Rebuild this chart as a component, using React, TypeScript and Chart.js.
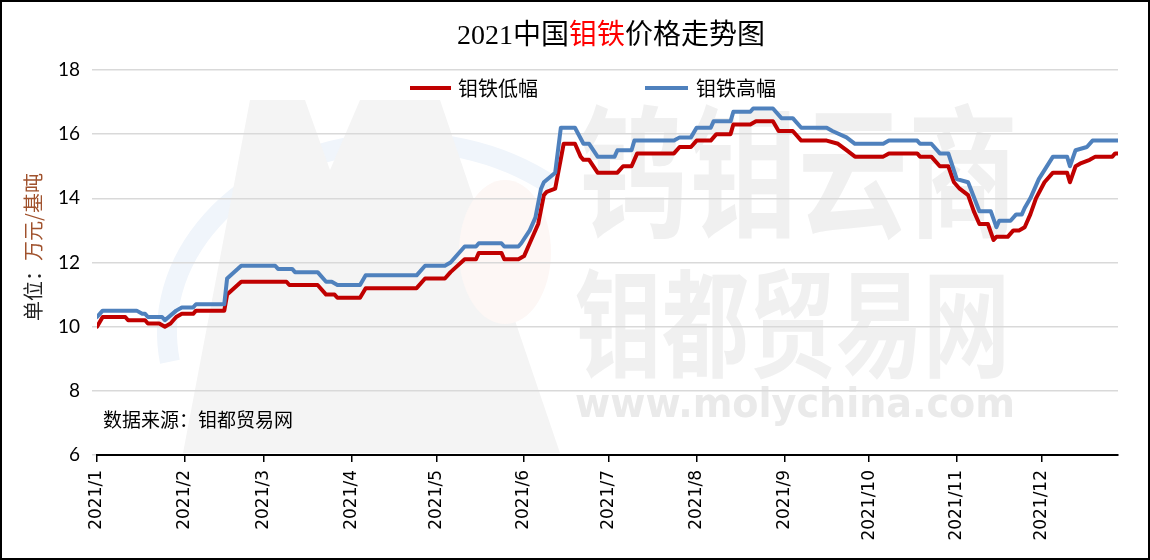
import React, { useEffect, useRef } from "react";
import { Chart, registerables } from "chart.js";

Chart.register(...registerables);

// ---- data (day index from 2021-01-01) ----
const monthStarts = [0, 31, 59, 90, 120, 151, 181, 212, 243, 273, 304, 334];
const monthLabels = [
  "2021/1", "2021/2", "2021/3", "2021/4", "2021/5", "2021/6",
  "2021/7", "2021/8", "2021/9", "2021/10", "2021/11", "2021/12",
];
const yTicks = [6, 8, 10, 12, 14, 16, 18];

const lowDays = [
  0, 2, 10, 11, 17, 18, 22, 24, 26, 28, 30, 34, 35, 45, 46, 51, 67, 68, 78, 81,
  84, 85, 93, 95, 113, 116, 123, 125, 130, 134, 135, 143, 144, 149, 151, 153, 156, 158, 159, 162,
  165, 169, 171, 172, 174, 177, 184, 186, 189, 191, 204, 206, 210, 212, 217, 219, 224, 225, 231, 233,
  239, 241, 246, 249, 258, 262, 265, 268, 278, 280, 290, 291, 295, 298, 301, 303, 305, 308, 310, 312,
  315, 317, 318, 322, 324, 326, 328, 330, 332, 335, 338, 343, 344, 346, 348, 351, 353, 359, 360, 361,
];
const lowValues = [
  10.0, 10.3, 10.3, 10.2, 10.2, 10.1, 10.1, 10.0, 10.1, 10.3, 10.4, 10.4, 10.5, 10.5, 11.0, 11.4, 11.4, 11.3, 11.3, 11.0,
  11.0, 10.9, 10.9, 11.2, 11.2, 11.5, 11.5, 11.7, 12.1, 12.1, 12.3, 12.3, 12.1, 12.1, 12.2, 12.6, 13.2, 14.1, 14.2, 14.3,
  15.7, 15.7, 15.3, 15.2, 15.2, 14.8, 14.8, 15.0, 15.0, 15.4, 15.4, 15.6, 15.6, 15.8, 15.8, 16.0, 16.0, 16.3, 16.3, 16.4,
  16.4, 16.1, 16.1, 15.8, 15.8, 15.7, 15.5, 15.3, 15.3, 15.4, 15.4, 15.3, 15.3, 15.0, 15.0, 14.5, 14.3, 14.1, 13.6, 13.2,
  13.2, 12.7, 12.8, 12.8, 13.0, 13.0, 13.1, 13.5, 14.0, 14.5, 14.8, 14.8, 14.5, 15.0, 15.1, 15.2, 15.3, 15.3, 15.4, 15.4,
];

const highDays = [
  0, 2, 14, 16, 17, 18, 23, 24, 28, 30, 34, 35, 45, 46, 51, 63, 64, 69, 70, 78,
  81, 83, 85, 93, 95, 113, 116, 123, 125, 130, 134, 135, 143, 144, 149, 150, 153, 155, 157, 158,
  162, 164, 169, 172, 174, 177, 183, 184, 189, 190, 204, 206, 210, 212, 217, 218, 224, 225, 231, 232,
  239, 242, 246, 249, 258, 260, 265, 268, 278, 280, 290, 291, 295, 298, 301, 304, 308, 312, 316, 318,
  319, 323, 325, 327, 328, 330, 333, 338, 343, 344, 346, 350, 352, 361,
];
const highValues = [
  10.3, 10.5, 10.5, 10.4, 10.4, 10.3, 10.3, 10.2, 10.5, 10.6, 10.6, 10.7, 10.7, 11.5, 11.9, 11.9, 11.8, 11.8, 11.7, 11.7,
  11.4, 11.4, 11.3, 11.3, 11.6, 11.6, 11.9, 11.9, 12.0, 12.5, 12.5, 12.6, 12.6, 12.5, 12.5, 12.6, 13.0, 13.4, 14.3, 14.5,
  14.8, 16.2, 16.2, 15.7, 15.7, 15.3, 15.3, 15.5, 15.5, 15.8, 15.8, 15.9, 15.9, 16.2, 16.2, 16.4, 16.4, 16.7, 16.7, 16.8,
  16.8, 16.5, 16.5, 16.2, 16.2, 16.1, 15.9, 15.7, 15.7, 15.8, 15.8, 15.7, 15.7, 15.4, 15.4, 14.6, 14.5, 13.6, 13.6, 13.1,
  13.3, 13.3, 13.5, 13.5, 13.7, 14.0, 14.6, 15.3, 15.3, 15.0, 15.5, 15.6, 15.8, 15.8,
];

const lowName = "钼铁低幅";
const highName = "钼铁高幅";
const lowColor = "#C00000";
const highColor = "#4F81BD";

const W = 1146;
const H = 556;

const CJK = "'Noto Sans CJK SC'";

const decor = {
  id: "decor",
  beforeDraw(chart: any) {
    const ctx: CanvasRenderingContext2D = chart.ctx;
    ctx.save();
    // faint blue arc (behind logo)
    ctx.strokeStyle = "#F0F5FB";
    ctx.lineWidth = 20;
    ctx.beginPath();
    ctx.ellipse(400, 330, 235, 190, 0, Math.PI * 0.95, Math.PI * 1.72);
    ctx.stroke();
    // faint "M" logo
    ctx.fillStyle = "#F4F4F4";
    ctx.beginPath();
    ctx.moveTo(181, 451);
    ctx.lineTo(248, 98);
    ctx.lineTo(303, 98);
    ctx.lineTo(328, 168);
    ctx.lineTo(358, 98);
    ctx.lineTo(438, 98);
    ctx.lineTo(558, 451);
    ctx.closePath();
    ctx.fill();
    // faint pink ellipse
    ctx.fillStyle = "#FDF7F5";
    ctx.beginPath();
    ctx.ellipse(503, 250, 46, 72, 0, 0, Math.PI * 2);
    ctx.fill();

    // watermark texts
    ctx.fillStyle = "#F0F0F0";
    ctx.textBaseline = "middle";
    ctx.textAlign = "left";
    ctx.save();
    ctx.translate(576, 170);
    ctx.scale(1, 1.3);
    ctx.font = `bold 110px ${CJK}`;
    ctx.fillText("钨钼云商", 0, 0);
    ctx.restore();

    ctx.save();
    ctx.translate(573, 321);
    ctx.scale(1, 1.35);
    ctx.font = `bold 87px ${CJK}`;
    ctx.fillText("钼都贸易网", 0, 0);
    ctx.restore();

    ctx.save();
    ctx.fillStyle = "#EAEAEA";
    ctx.font = "bold 40px 'DejaVu Sans'";
    const t = "www.molychina.com";
    const w = ctx.measureText(t).width;
    ctx.translate(573, 405);
    ctx.scale(440 / w, 1);
    ctx.fillText(t, 0, 0);
    ctx.restore();
    ctx.restore();
  },
  afterDraw(chart: any) {
    const ctx: CanvasRenderingContext2D = chart.ctx;
    ctx.save();
    ctx.textBaseline = "middle";
    ctx.textAlign = "left";

    // title with red part
    const parts: [string, string][] = [
      ["2021中国", "#000000"],
      ["钼铁", "#FF0000"],
      ["价格走势图", "#000000"],
    ];
    ctx.font = `28px 'Liberation Serif', ${CJK}`;
    const widths = parts.map((p) => ctx.measureText(p[0]).width);
    const total = widths.reduce((a, b) => a + b, 0);
    let x = 609 - total / 2;
    parts.forEach((p, i) => {
      ctx.fillStyle = p[1];
      ctx.fillText(p[0], x, 35);
      x += widths[i];
    });

    // legend
    ctx.font = `20px ${CJK}`;
    ctx.lineWidth = 4;
    ctx.lineCap = "butt";
    ctx.strokeStyle = lowColor;
    ctx.beginPath();
    ctx.moveTo(408, 86);
    ctx.lineTo(449, 86);
    ctx.stroke();
    ctx.fillStyle = "#000";
    ctx.fillText(lowName, 456, 86);
    ctx.strokeStyle = highColor;
    ctx.beginPath();
    ctx.moveTo(643, 86);
    ctx.lineTo(686, 86);
    ctx.stroke();
    ctx.fillText(highName, 694, 86);

    // source
    ctx.font = `19px ${CJK}`;
    ctx.fillStyle = "#000";
    ctx.fillText("数据来源：钼都贸易网", 101, 418);

    // y axis title
    ctx.save();
    ctx.translate(31, 245);
    ctx.rotate(-Math.PI / 2);
    ctx.font = `20px ${CJK}`;
    const yp: [string, string][] = [
      ["单位：", "#222222"],
      ["万元/基吨", "#A0522D"],
    ];
    const yw = yp.map((p) => ctx.measureText(p[0]).width);
    let yx = -(yw[0] + yw[1]) / 2;
    yp.forEach((p, i) => {
      ctx.fillStyle = p[1];
      ctx.fillText(p[0], yx, 0);
      yx += yw[i];
    });
    ctx.restore();

    ctx.restore();
  },
};

export default function App() {
  const ref = useRef<HTMLCanvasElement>(null);
  useEffect(() => {
    const canvas = ref.current;
    if (!canvas) return;
    const chart = new Chart(canvas, {
      type: "line",
      data: {
        datasets: [
          {
            label: highName,
            data: highDays.map((d, i) => ({ x: d, y: highValues[i] })),
            borderColor: highColor,
            backgroundColor: highColor,
            borderWidth: 4,
            pointRadius: 0,
            tension: 0,
            fill: false,
            borderJoinStyle: "round",
            borderCapStyle: "round",
          },
          {
            label: lowName,
            data: lowDays.map((d, i) => ({ x: d, y: lowValues[i] })),
            borderColor: lowColor,
            backgroundColor: lowColor,
            borderWidth: 4,
            pointRadius: 0,
            tension: 0,
            fill: false,
            borderJoinStyle: "round",
            borderCapStyle: "round",
          },
        ],
      },
      options: {
        responsive: false,
        animation: false,
        layout: { padding: { top: 68, right: 30, left: 0, bottom: 0 } },
        plugins: {
          legend: { display: false },
          title: { display: false },
          tooltip: { enabled: false },
        },
        scales: {
          x: {
            type: "linear",
            min: 0,
            max: 361,
            afterBuildTicks: (s: any) => {
              s.ticks = monthStarts.map((v) => ({ value: v }));
            },
            afterFit: (s: any) => {
              s.height = 103;
            },
            ticks: {
              autoSkip: false,
              minRotation: 90,
              maxRotation: 90,
              padding: 8,
              color: "#000",
              font: { family: "'DejaVu Sans'", size: 17 },
              callback: (v: any) => {
                const i = monthStarts.indexOf(Number(v));
                return i >= 0 ? monthLabels[i] : "";
              },
            },
            grid: {
              drawOnChartArea: false,
              color: "#000",
              tickLength: 7,
              lineWidth: 1.5,
            },
            border: { color: "#000", width: 2 },
          },
          y: {
            min: 6,
            max: 18,
            afterBuildTicks: (s: any) => {
              s.ticks = yTicks.map((v) => ({ value: v }));
            },
            afterFit: (s: any) => {
              s.width = 95;
            },
            ticks: {
              padding: 12,
              color: "#000",
              font: { family: "Lato", size: 19 },
            },
            grid: { color: "#D9D9D9", lineWidth: 1.5, tickLength: 5 },
            border: { display: false },
          },
        },
      },
      plugins: [decor],
    } as any);
    return () => chart.destroy();
  }, []);

  return (
    <div
      style={{
        position: "fixed",
        left: 0,
        top: 0,
        width: 1150,
        height: 560,
        border: "2px solid #000",
        boxSizing: "border-box",
        background: "#fff",
      }}
    >
      <canvas ref={ref} width={W} height={H} style={{ width: W, height: H, display: "block" }} />
    </div>
  );
}
